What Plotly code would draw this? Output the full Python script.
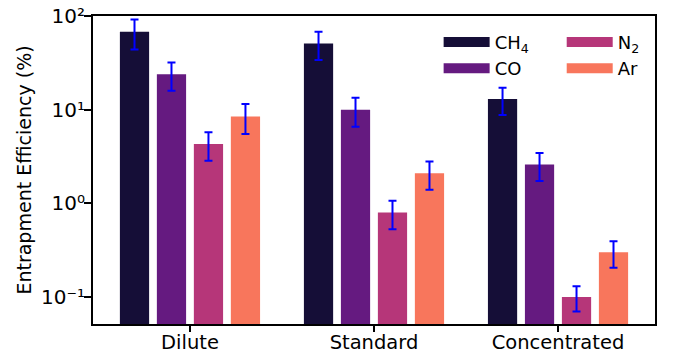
import plotly.graph_objects as go

categories = ["Dilute", "Standard", "Concentrated"]
gases = ["CH<sub>4</sub>", "CO", "N<sub>2</sub>", "Ar"]
colors = ["#150e37", "#651a80", "#b63679", "#f8765c"]

ch4 = [68, 51, 13]
co = [24, 10, 2.6]
n2 = [4.3, 0.8, 0.1]
ar = [8.5, 2.1, 0.3]

ch4_err = [24, 17, 4.2]
co_err = [8, 3.4, 0.86]
n2_err = [1.45, 0.27, 0.03]
ar_err = [3.0, 0.7, 0.095]

values = [ch4, co, n2, ar]
errors = [ch4_err, co_err, n2_err, ar_err]

tick_vals = [0.1, 1, 10, 100]
tick_text = ["10\u207b\u00b9", "10\u2070", "10\u00b9", "10\u00b2"]

FONT = "DejaVu Sans"

fig = go.Figure()
for i, (g, c, v, e) in enumerate(zip(gases, colors, values, errors)):
    fig.add_trace(go.Bar(
        x=categories, y=v, name=g, marker=dict(color=c, line=dict(width=0)),
        error_y=dict(type="data", array=e, visible=True, color="#0000ff", thickness=2, width=4),
        showlegend=False,
    ))
    fig.add_trace(go.Scatter(
        x=[None], y=[None], mode="lines", name=g,
        line=dict(color=c, width=12),
        legend="legend" if i < 2 else "legend2",
    ))

fig.update_layout(
    width=675, height=358,
    margin=dict(l=85, r=28, t=8, b=42, autoexpand=False),
    paper_bgcolor="white", plot_bgcolor="white",
    font=dict(family=FONT, size=19, color="black"),
    barmode="group", bargap=0.196, bargroupgap=0.21,
    legend=dict(x=0.615, y=0.975, xanchor="left", yanchor="top",
                bgcolor="rgba(0,0,0,0)", font=dict(size=18), itemwidth=46),
    legend2=dict(x=0.834, y=0.975, xanchor="left", yanchor="top",
                 bgcolor="rgba(0,0,0,0)", font=dict(size=18), itemwidth=46),
)
fig.update_xaxes(
    range=[-0.527, 2.527], showline=True, linewidth=2, linecolor="black", mirror=True,
    ticks="outside", ticklen=6, tickwidth=2, tickcolor="black", showgrid=False,
    automargin=False, ticklabelstandoff=-6, tickfont=dict(size=19.5),
)
fig.update_yaxes(
    type="log", range=[-1.288, 2.0015], showline=True, linewidth=2, linecolor="black", mirror=True,
    ticks="outside", ticklen=7, tickwidth=2, tickcolor="black", showgrid=False,
    tickvals=tick_vals, ticktext=tick_text, automargin=False, ticklabelstandoff=-5,
    ticklabeloverflow="allow", tickfont=dict(size=20),
    title=dict(text="Entrapment Efficiency (%)", standoff=4, font=dict(size=19)),
)
fig.write_html("out.html")
